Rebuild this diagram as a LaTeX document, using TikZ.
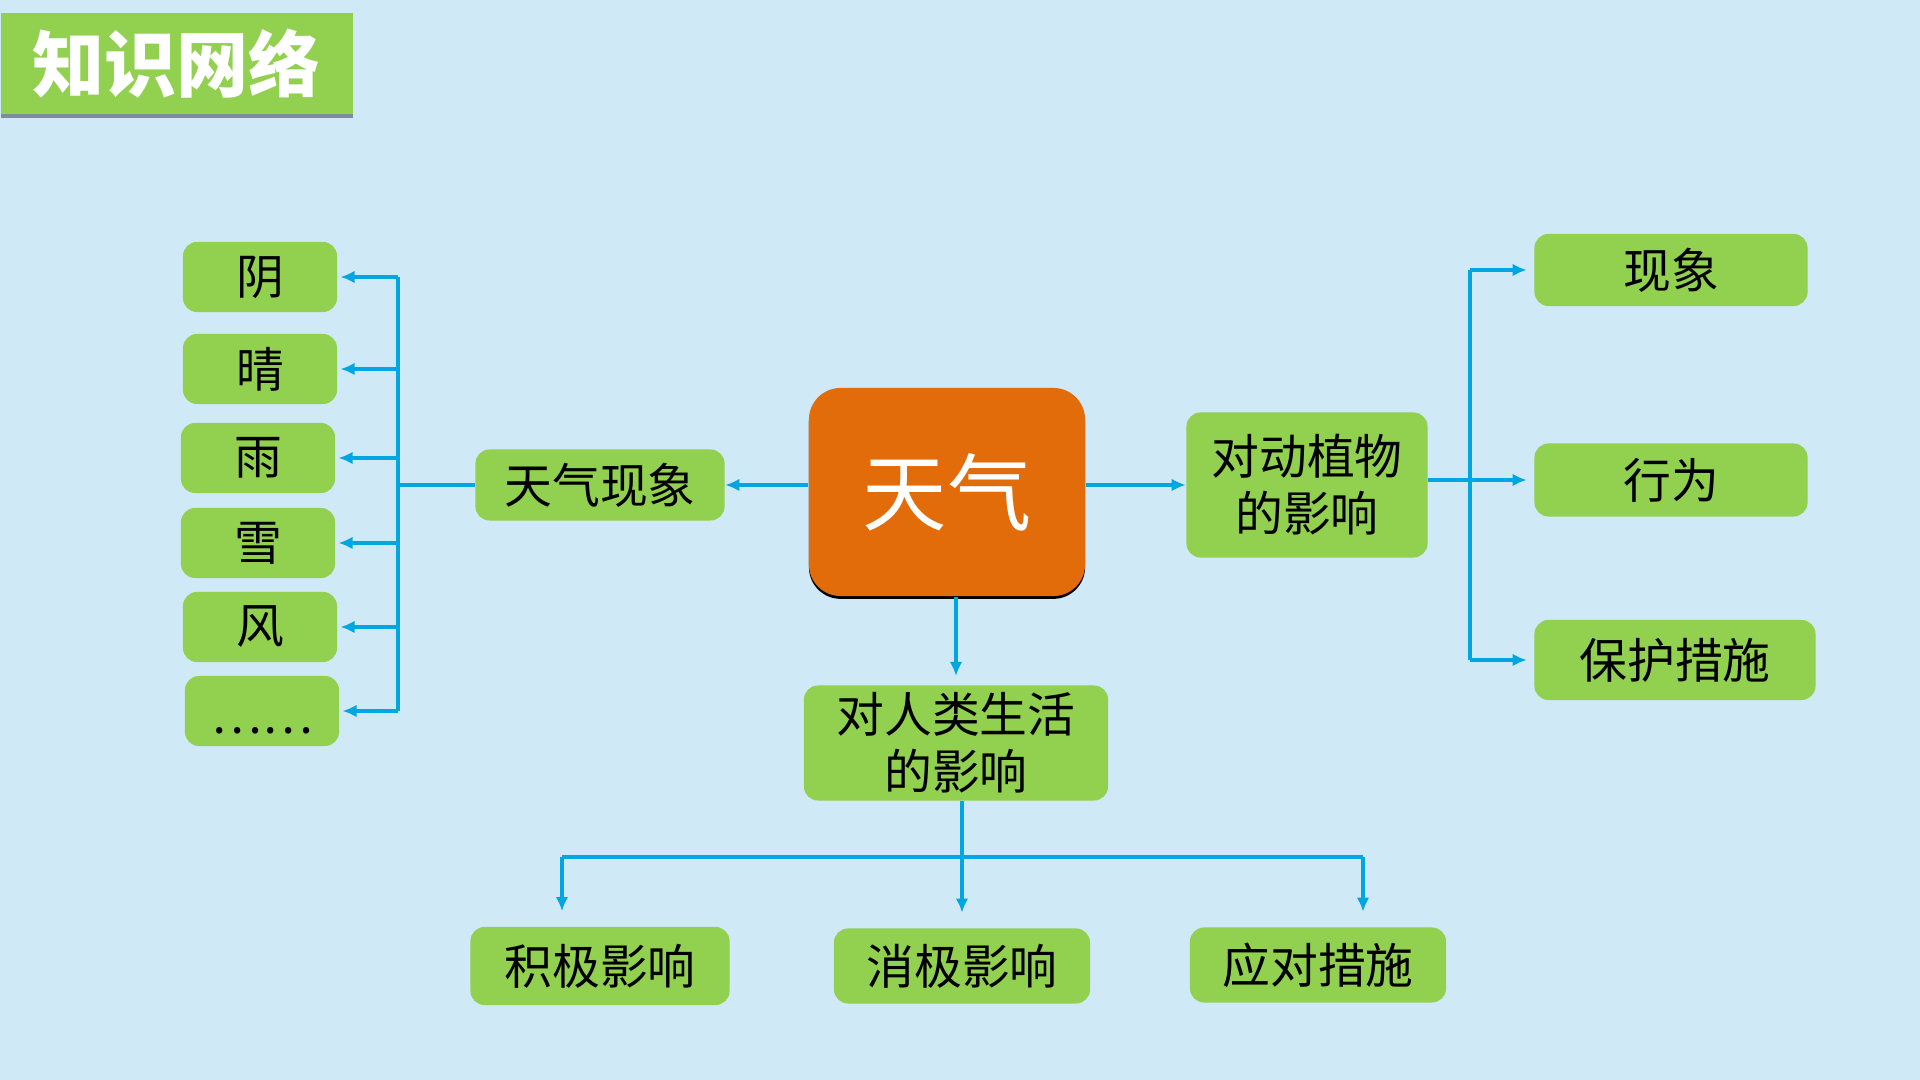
\documentclass[tikz,border=0pt]{standalone}
\usepackage{fontspec}
\setmainfont{Noto Sans CJK SC}
\usepackage{xcolor}
\definecolor{bgblue}{RGB}{207,233,247}
\definecolor{leafgreen}{RGB}{146,208,80}
\definecolor{linkblue}{RGB}{0,166,226}
\definecolor{wxorange}{RGB}{227,108,10}
\definecolor{shadegray}{RGB}{128,140,155}
\usetikzlibrary{arrows.meta, positioning, shadows}

\tikzset{
  leaf/.style={fill=leafgreen, rounded corners=4pt, inner sep=0pt, align=center,
    font=\fontsize{13.6}{16.2}\selectfont},
  link/.style={linkblue, line width=1pt, -{Latex[length=4pt,width=3.6pt]}},
  bar/.style={linkblue, line width=1pt},
}

\begin{document}
\begin{tikzpicture}[x=0.01cm, y=-0.01cm]
      % Background
      \fill[bgblue] (0,0) rectangle (1920,1080);
      % Title
      \node[fill=leafgreen, anchor=north west, minimum width=3.52cm, minimum height=1.01cm,
        drop shadow={shadow xshift=0pt, shadow yshift=-1.3pt, fill=shadegray, opacity=1},
        text=white, font=\fontsize{20.5}{24}\selectfont\bfseries] (title) at (0,12) {知识网络};
      % Centre
      \node[fill=wxorange, rounded corners=9pt, minimum width=2.76cm, minimum height=2.08cm,
        drop shadow={shadow xshift=0pt, shadow yshift=-0.8pt, fill=black, opacity=1},
        text=white, font=\fontsize{24}{28}\selectfont] (wx) at (947,492) {天气};
      % First level
      \node[leaf, minimum width=2.49cm, minimum height=0.71cm] (phen) at (600,485) {天气现象};
      \node[leaf, minimum width=2.41cm, minimum height=1.45cm] (plant) at (1307,485) {对动植物\\的影响};
      \node[leaf, minimum width=3.04cm, minimum height=1.15cm] (human) at (956,743) {对人类生活\\的影响};
      % Weather kinds
      \node[leaf, minimum width=1.54cm, minimum height=0.70cm] (yin) at (260,277) {阴};
      \node[leaf, minimum width=1.54cm, minimum height=0.70cm] (qing) at (260,369) {晴};
      \node[leaf, minimum width=1.54cm, minimum height=0.70cm] (yu) at (258,458) {雨};
      \node[leaf, minimum width=1.54cm, minimum height=0.70cm] (xue) at (258,543) {雪};
      \node[leaf, minimum width=1.54cm, minimum height=0.70cm] (feng) at (260,627) {风};
      \node[leaf, minimum width=1.54cm, minimum height=0.70cm, text height=0.42cm, text depth=0.06cm]
        (dots) at (262,711) {\raisebox{-0.04cm}{……}};
      % Plants and animals
      \node[leaf, minimum width=2.73cm, minimum height=0.72cm] (xx) at (1671,270) {现象};
      \node[leaf, minimum width=2.73cm, minimum height=0.73cm] (xw) at (1671,480) {行为};
      \node[leaf, minimum width=2.81cm, minimum height=0.80cm] (bh) at (1675,660) {保护措施};
      % Human life
      \node[leaf, minimum width=2.59cm, minimum height=0.78cm] (jiji) at (600,966) {积极影响};
      \node[leaf, minimum width=2.56cm, minimum height=0.75cm] (xiao) at (962,966) {消极影响};
      \node[leaf, minimum width=2.56cm, minimum height=0.75cm] (ying) at (1318,965) {应对措施};
      % Junctions
      \coordinate (lbar) at (398,485);
      \coordinate (rbar) at (1470,480);
      \coordinate (hj) at (962,857);
      \coordinate (ja) at (562,857);
      \coordinate (ya) at (1363,857);
      % Left branch
      \draw[link] (wx.west |- phen.east) -- (phen.east);
      \draw[bar] (phen.west) -- (lbar);
      \draw[bar] (lbar |- yin.east) -- (lbar |- dots.east);
      \foreach \n in {yin, qing, yu, xue, feng, dots}
        \draw[link, shorten >=0.8pt] (lbar |- \n.east) -- (\n.east);
      % Right branch
      \draw[link] (wx.east |- plant.west) -- (plant.west);
      \draw[bar] (plant.east |- rbar) -- (rbar);
      \draw[bar] (rbar |- xx.west) -- (rbar |- bh.west);
      \foreach \n in {xx, xw, bh}
        \draw[link, shorten >=2pt] (rbar |- \n.west) -- (\n.west);
      % Lower branch
      \draw[link, shorten >=2.5pt] (wx.south -| human.north) -- (human.north);
      \draw[bar] (human.south -| hj) -- (hj);
      \draw[bar] (ja) -- (ya);
      \draw[link, shorten >=4.3pt] (ja) -- (ja |- jiji.north);
      \draw[link, shorten >=4.3pt] (hj) -- (hj |- xiao.north);
      \draw[link, shorten >=4.3pt] (ya) -- (ya |- ying.north);
\end{tikzpicture}
\end{document}
